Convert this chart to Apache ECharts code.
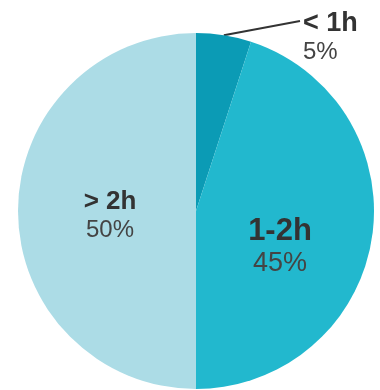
<!DOCTYPE html>
<html>
<head>
<meta charset="utf-8">
<script src="https://cdn.jsdelivr.net/npm/echarts@6/dist/echarts.min.js"></script>
<style>
  html, body { margin: 0; padding: 0; background: #ffffff; }
  #chart { width: 380px; height: 390px; }
</style>
</head>
<body>
<div id="chart"></div>
<script>
// Time-spent groups, shares in percent
const categories = ['< 1h', '1-2h', '> 2h'];
const shares = [5, 45, 50];
const sliceColors = ['#0b9bb5', '#22b8ce', '#acdce6'];

const chart = echarts.init(document.getElementById('chart'), null, { renderer: 'canvas' });

// Per-slice label styling: outside small slice, inside large ones
const labelSpec = [
  { position: 'outside', title: 27, value: 24 },
  { position: 'inside', title: 31, value: 27 },
  { position: 'inside', title: 26, value: 24 }
];
// Where each label block sits
const labelPlace = [
  { x: 303, y: 38, align: 'left' },
  { x: 280, y: 247, align: 'center' },
  { x: 110, y: 216, align: 'center' }
];
// End of the leader line for the small slice
const leaderEnd = [300, 21];

const data = categories.map((name, i) => ({
  name: name,
  value: shares[i],
  itemStyle: { color: sliceColors[i] },
  label: {
    show: true,
    position: labelSpec[i].position,
    formatter: '{t|{b}}\n{v|{c}%}',
    align: labelPlace[i].align,
    rich: {
      t: { fontSize: labelSpec[i].title, fontWeight: 'bold', color: '#333333', lineHeight: labelSpec[i].title + 2, fontFamily: 'Liberation Sans', align: labelPlace[i].align },
      v: { fontSize: labelSpec[i].value, color: '#444444', lineHeight: labelSpec[i].value + 4, fontFamily: 'Liberation Sans', align: labelPlace[i].align }
    }
  },
  labelLine: {
    show: i === 0,
    length: 10,
    length2: 10,
    lineStyle: { color: '#333333', width: 2 }
  }
}));

chart.setOption({
  animation: false,
  series: [{
    type: 'pie',
    center: [196, 211],
    radius: 178,
    startAngle: 90,
    clockwise: true,
    avoidLabelOverlap: false,
    itemStyle: { borderWidth: 0 },
    emphasis: { disabled: true },
    data: data,
    labelLayout: function (params) {
      const p = labelPlace[params.dataIndex];
      const out = { x: p.x, y: p.y, align: p.align, verticalAlign: 'middle' };
      if (params.dataIndex === 0 && params.labelLinePoints) {
        // straight leader from the slice edge to the label
        const start = params.labelLinePoints[0];
        out.labelLinePoints = [start, leaderEnd, leaderEnd];
      }
      return out;
    }
  }]
});
</script>
</body>
</html>
